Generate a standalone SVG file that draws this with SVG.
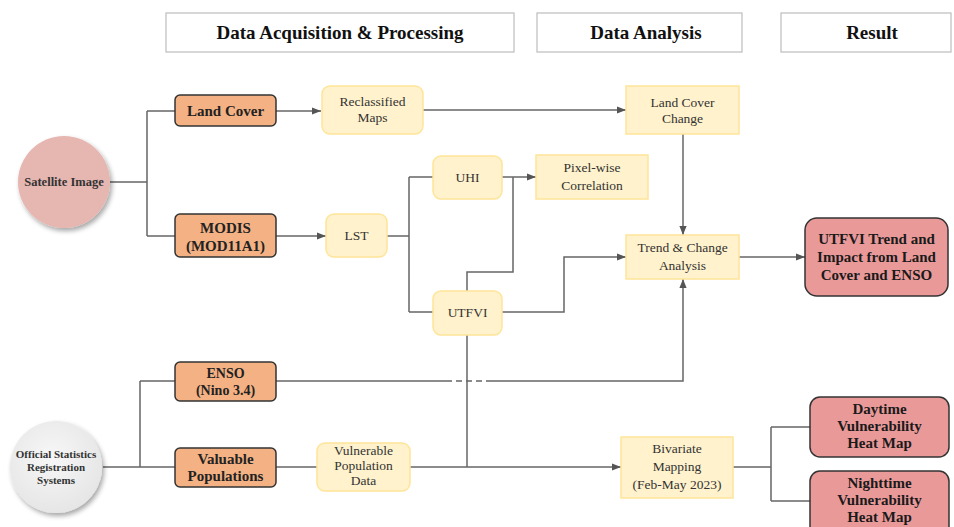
<svg xmlns="http://www.w3.org/2000/svg" width="954" height="527" viewBox="0 0 954 527" font-family="'Liberation Serif', 'Times New Roman', serif">
  <defs>
    <marker id="arrow" viewBox="0 0 10 10" refX="10" refY="5" markerWidth="9" markerHeight="9" markerUnits="userSpaceOnUse" orient="auto">
      <path d="M0,1 L10,5 L0,9 z" fill="#555"/>
    </marker>
    <filter id="shadow" x="-30%" y="-30%" width="160%" height="160%">
      <feGaussianBlur in="SourceAlpha" stdDeviation="2.5"/>
      <feOffset dx="2" dy="3" result="b"/>
      <feComponentTransfer><feFuncA type="linear" slope="0.35"/></feComponentTransfer>
      <feMerge><feMergeNode/><feMergeNode in="SourceGraphic"/></feMerge>
    </filter>
    <radialGradient id="greyBall" cx="45%" cy="40%" r="60%">
      <stop offset="0" stop-color="#f7f7f7"/>
      <stop offset="1" stop-color="#e6e6e6"/>
    </radialGradient>
  </defs>
  <style>
    .hdr { fill: #ffffff; stroke: #bdbdbd; stroke-width: 1.2; }
    .hdrt { font-weight: bold; font-size: 19px; fill: #111; text-anchor: middle; }
    .src { fill: #f4b183; stroke: #333; stroke-width: 1.5; }
    .srct { font-weight: bold; font-size: 15px; fill: #222; text-anchor: middle; }
    .srct.sm { font-size: 14px; }
    .proc { fill: #fff2cc; stroke: #ffe599; stroke-width: 1.5; }
    .proct { font-size: 13.5px; fill: #333; text-anchor: middle; }
    .res { fill: #ea9999; stroke: #333; stroke-width: 1.5; }
    .rest { font-weight: bold; font-size: 15px; fill: #1a1a1a; text-anchor: middle; }
    .circt { font-weight: bold; font-size: 12.5px; fill: #333; text-anchor: middle; }
    .circt.sm { font-size: 11px; }
    .ln { fill: none; stroke: #666; stroke-width: 1.5; }
    .arr { fill: none; stroke: #666; stroke-width: 1.5; marker-end: url(#arrow); }
    .dash { fill: none; stroke: #666; stroke-width: 1.5; stroke-dasharray: 6 4; }
  </style>

  <!-- stage headers -->
  <g id="header-acquisition">
    <rect class="hdr" x="166" y="13" width="348" height="39"/>
    <text class="hdrt" x="340" y="39">Data Acquisition &amp; Processing</text>
  </g>
  <g id="header-analysis">
    <rect class="hdr" x="537" y="13" width="205" height="39"/>
    <text class="hdrt" x="646" y="39">Data Analysis</text>
  </g>
  <g id="header-result">
    <rect class="hdr" x="781" y="13" width="170" height="39"/>
    <text class="hdrt" x="872" y="39">Result</text>
  </g>

  <!-- connectors -->
  <g id="connectors">
    <path class="ln" d="M110,182 H147 M147,111 V236 M147,111 H175 M147,236 H175"/>
    <path class="arr" d="M276,111 H321"/>
    <path class="arr" d="M276,236 H326"/>
    <path class="arr" d="M423,110 H626"/>
    <path class="arr" d="M683,134 V235"/>
    <path class="ln" d="M387,236 H409 M409,177 V312 M409,177 H433 M409,312 H433"/>
    <path class="arr" d="M502,177 H536"/>
    <path class="ln" d="M467,291 V272 H513 V177"/>
    <path class="arr" d="M502,312 H564 V257 H626"/>
    <path class="arr" d="M739,257 H805"/>
    <path class="ln" d="M467,335 V467"/>
    <path class="ln" d="M103,467 H140 M140,381 V467 M140,381 H175 M140,467 H175"/>
    <path class="ln" d="M276,381 H446"/>
    <path class="dash" d="M446,381 H487"/>
    <path class="arr" d="M487,381 H683 V279"/>
    <path class="ln" d="M276,467 H317"/>
    <path class="arr" d="M410,467 H621"/>
    <path class="ln" d="M733,467 H771 M771,427 V501 M771,427 H810 M771,501 H810"/>
  </g>

  <!-- sources -->
  <g id="satellite-image">
    <circle cx="64" cy="182" r="46" fill="#e6b6b1" filter="url(#shadow)"/>
    <text class="circt" x="64" y="186">Satellite Image</text>
  </g>
  <g id="official-statistics">
    <circle cx="56" cy="467" r="46" fill="url(#greyBall)" filter="url(#shadow)"/>
    <text class="circt sm" x="56" y="458">Official Statistics</text>
    <text class="circt sm" x="56" y="471">Registration</text>
    <text class="circt sm" x="56" y="484">Systems</text>
  </g>

  <g id="land-cover">
    <rect class="src" x="175" y="95" width="101" height="31" rx="5"/>
    <text class="srct" x="225.5" y="116">Land Cover</text>
  </g>
  <g id="modis">
    <rect class="src" x="175" y="214" width="101" height="43" rx="5"/>
    <text class="srct" x="225.5" y="233">MODIS</text>
    <text class="srct" x="225.5" y="251">(MOD11A1)</text>
  </g>
  <g id="enso">
    <rect class="src" x="175" y="362" width="101" height="39" rx="5"/>
    <text class="srct sm" x="225.5" y="378">ENSO</text>
    <text class="srct sm" x="225.5" y="395">(Nino 3.4)</text>
  </g>
  <g id="valuable-populations">
    <rect class="src" x="175" y="448" width="101" height="39" rx="5"/>
    <text class="srct" x="225.5" y="464">Valuable</text>
    <text class="srct" x="225.5" y="481">Populations</text>
  </g>

  <!-- processing -->
  <g id="reclassified-maps">
    <rect class="proc" x="322" y="86" width="101" height="48" rx="8"/>
    <text class="proct" x="372.5" y="106">Reclassified</text>
    <text class="proct" x="372.5" y="122">Maps</text>
  </g>
  <g id="lst">
    <rect class="proc" x="326" y="214" width="61" height="43" rx="8"/>
    <text class="proct" x="356.5" y="240">LST</text>
  </g>
  <g id="uhi">
    <rect class="proc" x="433" y="156" width="69" height="43" rx="8"/>
    <text class="proct" x="467.5" y="182">UHI</text>
  </g>
  <g id="utfvi">
    <rect class="proc" x="433" y="291" width="69" height="44" rx="8"/>
    <text class="proct" x="467.5" y="317">UTFVI</text>
  </g>
  <g id="vulnerable-population-data">
    <rect class="proc" x="317" y="443" width="93" height="48" rx="8"/>
    <text class="proct" x="363.5" y="455">Vulnerable</text>
    <text class="proct" x="363.5" y="470">Population</text>
    <text class="proct" x="363.5" y="485">Data</text>
  </g>

  <!-- analysis -->
  <g id="land-cover-change">
    <rect class="proc" x="626" y="86" width="113" height="48"/>
    <text class="proct" x="682.5" y="107">Land Cover</text>
    <text class="proct" x="682.5" y="123">Change</text>
  </g>
  <g id="pixel-wise-correlation">
    <rect class="proc" x="536" y="155" width="112" height="44"/>
    <text class="proct" x="592" y="172">Pixel-wise</text>
    <text class="proct" x="592" y="190">Correlation</text>
  </g>
  <g id="trend-change-analysis">
    <rect class="proc" x="626" y="235" width="113" height="44"/>
    <text class="proct" x="682.5" y="252">Trend &amp; Change</text>
    <text class="proct" x="682.5" y="270">Analysis</text>
  </g>
  <g id="bivariate-mapping">
    <rect class="proc" x="621" y="437" width="112" height="61"/>
    <text class="proct" x="677" y="453">Bivariate</text>
    <text class="proct" x="677" y="471">Mapping</text>
    <text class="proct" x="677" y="489">(Feb-May 2023)</text>
  </g>

  <!-- results -->
  <g id="utfvi-trend-impact">
    <rect class="res" x="805" y="218" width="143" height="78" rx="12"/>
    <text class="rest" x="876.5" y="244">UTFVI Trend and</text>
    <text class="rest" x="876.5" y="262">Impact from Land</text>
    <text class="rest" x="876.5" y="280">Cover and ENSO</text>
  </g>
  <g id="daytime-heat-map">
    <rect class="res" x="810" y="397" width="139" height="60" rx="10"/>
    <text class="rest" x="879.5" y="414">Daytime</text>
    <text class="rest" x="879.5" y="431">Vulnerability</text>
    <text class="rest" x="879.5" y="448">Heat Map</text>
  </g>
  <g id="nighttime-heat-map">
    <rect class="res" x="810" y="471" width="139" height="70" rx="10"/>
    <text class="rest" x="879.5" y="488">Nighttime</text>
    <text class="rest" x="879.5" y="505">Vulnerability</text>
    <text class="rest" x="879.5" y="522">Heat Map</text>
  </g>
</svg>
